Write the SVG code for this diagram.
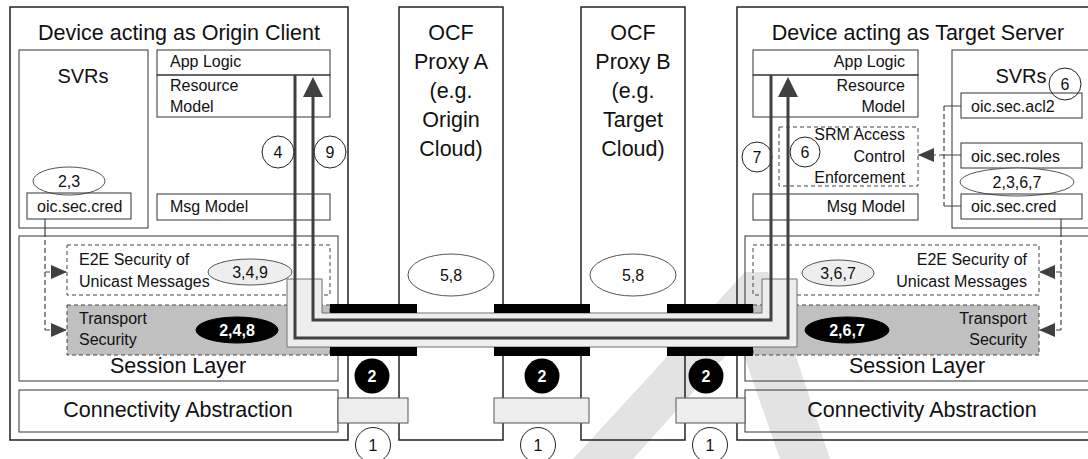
<svg xmlns="http://www.w3.org/2000/svg" width="1088" height="459" viewBox="0 0 1088 459">
  <defs>
    <style>
      text { font-family: "Liberation Sans", Arial, sans-serif; fill: #111; }
      .big { font-size: 21.5px; }
      .mid { font-size: 20px; }
      .sm { font-size: 16px; }
      .c { text-anchor: middle; }
      .r { text-anchor: end; }
      .wb { fill: #fff; font-weight: bold; font-size: 16px; text-anchor: middle; }
      .frame { fill: none; stroke: #222; stroke-width: 1.5; }
      .box { fill: none; stroke: #333; stroke-width: 1; }
      .dbox { fill: none; stroke: #444; stroke-width: 1; stroke-dasharray: 4 3; }
      .gbox { fill: #c0c0c0; stroke: #444; stroke-width: 1; stroke-dasharray: 4 3; }
      .link { fill: #eeeeee; stroke: #555; stroke-width: 1; }
      .oval { fill: #fff; stroke: #555; stroke-width: 1; }
      .ovalg { fill: #eeeeee; stroke: #555; stroke-width: 1; }
      .ovalb { fill: #000; stroke: #000; }
      .num { fill: none; stroke: #222; stroke-width: 1; }
      .flow { fill: none; stroke: #404040; stroke-width: 3; }
      .dcon { fill: none; stroke: #444; stroke-width: 1.2; stroke-dasharray: 5 3; }
      .scon { fill: none; stroke: #444; stroke-width: 1.2; }
      .bar { fill: #000; }
    </style>
    <marker id="bigHead" viewBox="0 0 20 20" refX="0" refY="10" markerWidth="20" markerHeight="20" markerUnits="userSpaceOnUse" orient="auto">
      <path d="M0,0 L20,10 L0,20 z" fill="#404040"/>
    </marker>
    <marker id="smHead" viewBox="0 0 16 14" refX="16" refY="7" markerWidth="16" markerHeight="14" markerUnits="userSpaceOnUse" orient="auto">
      <path d="M0,0 L16,7 L0,14 z" fill="#404040"/>
    </marker>
  </defs>

  <rect x="0" y="0" width="1088" height="459" fill="#fff"/>

  <!-- Faint diagonal backdrop strokes in the lower right, behind everything -->
  <g id="backdrop">
    <path d="M573,459 L745,272 L768,272 L830,459 L780,459 L739,341 L633,459 Z" fill="#e3e3e3"/>
  </g>

  <!-- Origin client device -->
  <g id="origin-client">
    <rect class="frame" x="10" y="7" width="338" height="433"/>
    <text class="big c" x="179" y="40">Device acting as Origin Client</text>
    <rect class="box" x="19" y="50" width="129" height="178"/>
    <text class="mid c" x="83" y="83">SVRs</text>
    <ellipse class="oval" cx="69" cy="181" rx="36" ry="14"/>
    <text class="sm c" x="69" y="187">2,3</text>
    <rect class="box" x="27" y="193" width="104" height="26" fill="#fff"/>
    <text class="sm" x="37" y="212">oic.sec.cred</text>
    <rect class="box" x="157" y="50" width="173" height="25"/>
    <text class="sm" x="170" y="67">App Logic</text>
    <rect class="box" x="157" y="75" width="173" height="42"/>
    <text class="sm" x="170" y="91">Resource</text>
    <text class="sm" x="170" y="112">Model</text>
    <rect class="box" x="157" y="194" width="173" height="26"/>
    <text class="sm" x="170" y="212">Msg Model</text>
    <circle class="num" cx="278" cy="152" r="16"/>
    <text class="sm c" x="278" y="158">4</text>
    <circle class="num" cx="330" cy="152" r="16"/>
    <text class="sm c" x="330" y="158">9</text>
    <rect class="box" x="19" y="236" width="319" height="145"/>
    <rect class="dbox" x="67" y="245" width="263" height="50"/>
    <text class="sm" x="79" y="265">E2E Security of</text>
    <text class="sm" x="79" y="287">Unicast Messages</text>
    <ellipse class="ovalg" cx="250" cy="272" rx="42" ry="13"/>
    <text class="sm c" x="250" y="278">3,4,9</text>
    <rect class="gbox" x="67" y="305" width="263" height="50"/>
    <text class="sm" x="79" y="324">Transport</text>
    <text class="sm" x="79" y="345">Security</text>
    <ellipse class="ovalb" cx="237" cy="330" rx="41" ry="13"/>
    <text class="wb" x="237" y="336">2,4,8</text>
    <text class="big c" x="178" y="373">Session Layer</text>
    <rect class="box" x="19" y="390" width="319" height="42"/>
    <text class="big c" x="178" y="417">Connectivity Abstraction</text>
  </g>

  <!-- Proxy A -->
  <g id="proxy-a">
    <rect class="frame" x="399" y="7" width="104" height="433"/>
    <text class="big c" x="451" y="40">OCF</text>
    <text class="big c" x="451" y="69">Proxy A</text>
    <text class="big c" x="451" y="98">(e.g.</text>
    <text class="big c" x="451" y="127">Origin</text>
    <text class="big c" x="451" y="156">Cloud)</text>
    <ellipse class="oval" cx="451" cy="275" rx="43" ry="21"/>
    <text class="sm c" x="451" y="281">5,8</text>
  </g>

  <!-- Proxy B -->
  <g id="proxy-b">
    <rect class="frame" x="581" y="7" width="104" height="433"/>
    <text class="big c" x="633" y="40">OCF</text>
    <text class="big c" x="633" y="69">Proxy B</text>
    <text class="big c" x="633" y="98">(e.g.</text>
    <text class="big c" x="633" y="127">Target</text>
    <text class="big c" x="633" y="156">Cloud)</text>
    <ellipse class="oval" cx="633" cy="275" rx="43" ry="21"/>
    <text class="sm c" x="633" y="281">5,8</text>
  </g>

  <!-- Target server device -->
  <g id="target-server">
    <rect class="frame" x="737" y="7" width="360" height="433"/>
    <text class="big c" x="918" y="40">Device acting as Target Server</text>
    <rect class="box" x="753" y="50" width="165" height="25"/>
    <text class="sm r" x="905" y="67">App Logic</text>
    <rect class="box" x="753" y="75" width="165" height="42"/>
    <text class="sm r" x="905" y="91">Resource</text>
    <text class="sm r" x="905" y="112">Model</text>
    <rect class="dbox" x="779" y="127" width="139" height="59"/>
    <text class="sm r" x="905" y="140">SRM Access</text>
    <text class="sm r" x="905" y="162">Control</text>
    <text class="sm r" x="905" y="183">Enforcement</text>
    <circle class="num" cx="757" cy="157" r="15"/>
    <text class="sm c" x="757" y="163">7</text>
    <circle class="num" cx="805" cy="152" r="15"/>
    <text class="sm c" x="805" y="158">6</text>
    <rect class="box" x="753" y="194" width="165" height="26"/>
    <text class="sm r" x="905" y="212">Msg Model</text>
    <rect class="box" x="952" y="50" width="145" height="178"/>
    <text class="mid c" x="1021" y="83">SVRs</text>
    <circle class="num" cx="1065" cy="84" r="16"/>
    <text class="sm c" x="1065" y="90">6</text>
    <rect class="box" x="961" y="93" width="121" height="25"/>
    <text class="sm" x="971" y="112">oic.sec.acl2</text>
    <rect class="box" x="961" y="143" width="121" height="25"/>
    <text class="sm" x="971" y="162">oic.sec.roles</text>
    <ellipse class="oval" cx="1017" cy="182" rx="57" ry="14"/>
    <text class="sm c" x="1017" y="188">2,3,6,7</text>
    <rect class="box" x="961" y="194" width="121" height="25" fill="#fff"/>
    <text class="sm" x="971" y="212">oic.sec.cred</text>
    <rect class="box" x="745" y="236" width="352" height="145"/>
    <rect class="dbox" x="753" y="245" width="286" height="50"/>
    <text class="sm r" x="1027" y="265">E2E Security of</text>
    <text class="sm r" x="1027" y="287">Unicast Messages</text>
    <ellipse class="ovalg" cx="838" cy="273" rx="36" ry="13"/>
    <text class="sm c" x="838" y="279">3,6,7</text>
    <rect class="gbox" x="753" y="305" width="286" height="50"/>
    <text class="sm r" x="1027" y="324">Transport</text>
    <text class="sm r" x="1027" y="345">Security</text>
    <ellipse class="ovalb" cx="847" cy="330" rx="42" ry="13"/>
    <text class="wb" x="847" y="336">2,6,7</text>
    <text class="big c" x="917" y="373">Session Layer</text>
    <rect class="box" x="745" y="390" width="352" height="42"/>
    <text class="big c" x="922" y="417">Connectivity Abstraction</text>
  </g>

  <!-- Physical links between devices and proxies -->
  <g id="links">
    <rect class="link" x="338" y="398" width="70" height="25"/>
    <rect class="link" x="494" y="398" width="95" height="25"/>
    <rect class="link" x="676" y="398" width="69" height="25"/>
    <circle cx="372" cy="376" r="17.5" fill="#000"/>
    <text class="wb" x="372" y="382">2</text>
    <circle cx="542" cy="376" r="17.5" fill="#000"/>
    <text class="wb" x="542" y="382">2</text>
    <circle cx="706" cy="376" r="17.5" fill="#000"/>
    <text class="wb" x="706" y="382">2</text>
    <circle class="num" cx="373" cy="445" r="17.5" fill="#fff"/>
    <text class="sm c" x="373" y="451">1</text>
    <circle class="num" cx="538" cy="445" r="17.5" fill="#fff"/>
    <text class="sm c" x="538" y="451">1</text>
    <circle class="num" cx="710" cy="445" r="17.5" fill="#fff"/>
    <text class="sm c" x="710" y="451">1</text>
  </g>

  <!-- Secured session tunnel -->
  <g id="tunnel">
    <path d="M287,279 H322 V313 H762 V279 H797 V347 H287 Z" fill="#eeeeee" stroke="#707070" stroke-width="1"/>
    <rect class="bar" x="330" y="304" width="87" height="9"/>
    <rect class="bar" x="330" y="347" width="87" height="9"/>
    <rect class="bar" x="494" y="304" width="96" height="9"/>
    <rect class="bar" x="494" y="347" width="96" height="9"/>
    <rect class="bar" x="667" y="304" width="86" height="9"/>
    <rect class="bar" x="667" y="347" width="86" height="9"/>
  </g>

  <!-- Connectors -->
  <g id="connectors">
    <path class="flow" d="M295,75 V338 H788 V97" marker-end="url(#bigHead)"/>
    <path class="flow" d="M771,75 V320 H313 V97" marker-end="url(#bigHead)"/>
    <path class="scon" d="M45,219 V232"/>
    <path class="dcon" d="M45,232 V330"/>
    <path class="dcon" d="M45,272 H67" marker-end="url(#smHead)"/>
    <path class="dcon" d="M45,330 H67" marker-end="url(#smHead)"/>
    <path class="scon" d="M1061,219 V232"/>
    <path class="dcon" d="M1061,232 V330"/>
    <path class="dcon" d="M1061,272 H1039" marker-end="url(#smHead)"/>
    <path class="dcon" d="M1061,330 H1039" marker-end="url(#smHead)"/>
    <path class="dcon" d="M944,106 V206"/>
    <path class="scon" d="M944,106 H961 M944,155 H961 M944,206 H961"/>
    <path class="dcon" d="M944,155 H918" marker-end="url(#smHead)"/>
  </g>
</svg>
